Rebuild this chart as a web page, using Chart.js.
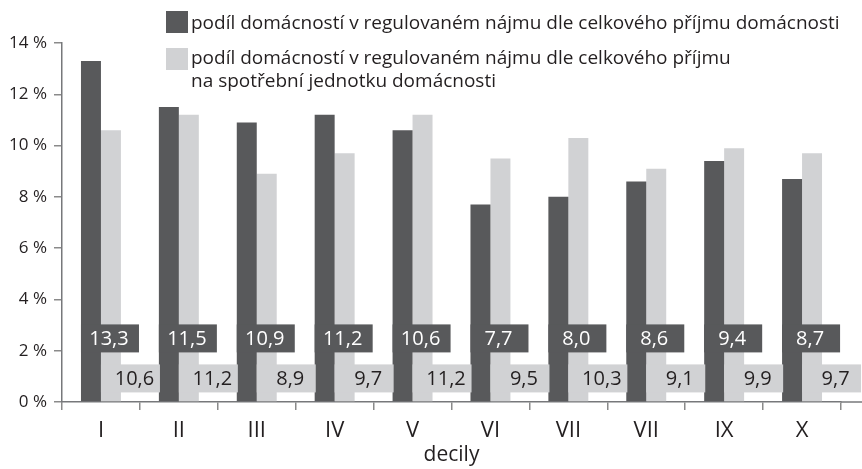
<!DOCTYPE html>
<html>
<head>
<meta charset="utf-8">
<script src="https://cdn.jsdelivr.net/npm/chart.js@4.4.0/dist/chart.umd.min.js"></script>
<style>
  html, body { margin: 0; padding: 0; background: #fff; }
  #wrap { width: 862px; height: 469px; }
</style>
</head>
<body>
<div id="wrap"><canvas id="chart" width="862" height="469"></canvas></div>
<script>
// decily (note: the source repeats "VII" for the 8th decile)
const decily = ["I", "II", "III", "IV", "V", "VI", "VII", "VII", "IX", "X"];
const podilCelkovy = [13.3, 11.5, 10.9, 11.2, 10.6, 7.7, 8.0, 8.6, 9.4, 8.7];
const podilSpotrebni = [10.6, 11.2, 8.9, 9.7, 11.2, 9.5, 10.3, 9.1, 9.9, 9.7];
const legendCelkovy = ["podíl domácností v regulovaném nájmu dle celkového příjmu domácnosti"];
const legendSpotrebni = ["podíl domácností v regulovaném nájmu dle celkového příjmu", "na spotřební jednotku domácnosti"];
const yMax = 14;
const yStep = 2;

const DARK = "#58595b";
const LIGHT = "#d1d2d4";
const TEXT = "#231f20";
const AXIS = "#77787b";
const FONT = "'Open Sans', 'Noto Sans', sans-serif";

const fmt = v => v.toFixed(1).replace(".", ",");

// value boxes near the bottom of the bars
const boxLabels = {
  id: "boxLabels",
  afterDatasetsDraw(chart) {
    const ctx = chart.ctx;
    const y = chart.scales.y;
    const dark = chart.getDatasetMeta(0).data;
    const light = chart.getDatasetMeta(1).data;
    ctx.save();
    ctx.font = "20px " + FONT;
    ctx.textAlign = "center";
    ctx.textBaseline = "middle";

    light.forEach((bar, i) => {
      const left = bar.x - bar.width / 2;
      const cy = y.getPixelForValue(0.92);
      ctx.fillStyle = LIGHT;
      ctx.fillRect(left, cy - 14, 59, 28);
      ctx.fillStyle = TEXT;
      ctx.fillText(fmt(podilSpotrebni[i]), left + 33.5, cy + 1);
    });

    dark.forEach((bar, i) => {
      const left = bar.x - bar.width / 2;
      const cy = y.getPixelForValue(2.48);
      ctx.fillStyle = DARK;
      ctx.fillRect(left, cy - 14, 58, 28);
      ctx.fillStyle = "#ffffff";
      ctx.fillText(fmt(podilCelkovy[i]), left + 28, cy + 1);
    });
    ctx.restore();
  }
};

// legend at the top, second entry wraps over two lines
const topLegend = {
  id: "topLegend",
  afterDraw(chart) {
    const ctx = chart.ctx;
    const area = chart.chartArea;
    ctx.save();
    // x axis line runs on to the right edge
    ctx.strokeStyle = AXIS;
    ctx.lineWidth = 1.5;
    ctx.beginPath();
    ctx.moveTo(area.right, area.bottom);
    ctx.lineTo(862, area.bottom);
    ctx.stroke();

    ctx.font = "19px " + FONT;
    ctx.textAlign = "left";
    ctx.textBaseline = "alphabetic";

    ctx.fillStyle = DARK;
    ctx.fillRect(166, 11, 22, 22);
    ctx.fillStyle = LIGHT;
    ctx.fillRect(166, 48, 22, 22);

    ctx.fillStyle = TEXT;
    legendCelkovy.forEach((t, k) => ctx.fillText(t, 191, 29 + k * 23));
    legendSpotrebni.forEach((t, k) => ctx.fillText(t, 191, 64 + k * 23));
    ctx.restore();
  }
};

new Chart(document.getElementById("chart"), {
  type: "bar",
  data: {
    labels: decily,
    datasets: [
      {
        label: legendCelkovy.join(" "),
        data: podilCelkovy,
        backgroundColor: DARK,
        barPercentage: 1,
        categoryPercentage: 40 / 78,
      },
      {
        label: legendSpotrebni.join(" "),
        data: podilSpotrebni,
        backgroundColor: LIGHT,
        barPercentage: 1,
        categoryPercentage: 40 / 78,
      },
    ],
  },
  options: {
    responsive: false,
    animation: false,
    layout: { padding: { top: 43, right: 21, left: 0, bottom: 0 } },
    plugins: {
      legend: { display: false },
      tooltip: { enabled: false },
    },
    scales: {
      x: {
        afterFit: s => { s.height = 67; },
        grid: {
          offset: true,
          drawOnChartArea: false,
          drawTicks: true,
          tickLength: 8,
          color: "#8a8a8a",
          lineWidth: 1.5,
        },
        border: { display: true, color: AXIS, width: 1.5 },
        ticks: {
          color: TEXT,
          font: { family: FONT, size: 22 },
          padding: 8,
        },
        title: {
          display: true,
          text: "decily",
          color: TEXT,
          font: { family: FONT, size: 21 },
          padding: { top: 0, bottom: 1 },
        },
      },
      y: {
        min: 0,
        max: yMax,
        afterFit: s => { s.width = 62; },
        grid: {
          drawOnChartArea: false,
          drawTicks: true,
          tickLength: 8,
          color: "#8a8a8a",
          lineWidth: 1.5,
        },
        border: { display: true, color: AXIS, width: 1.5 },
        ticks: {
          stepSize: yStep,
          color: TEXT,
          font: { family: FONT, size: 17 },
          padding: 7,
          callback: v => v + " %",
        },
      },
    },
  },
  plugins: [boxLabels, topLegend],
});
</script>
</body>
</html>
